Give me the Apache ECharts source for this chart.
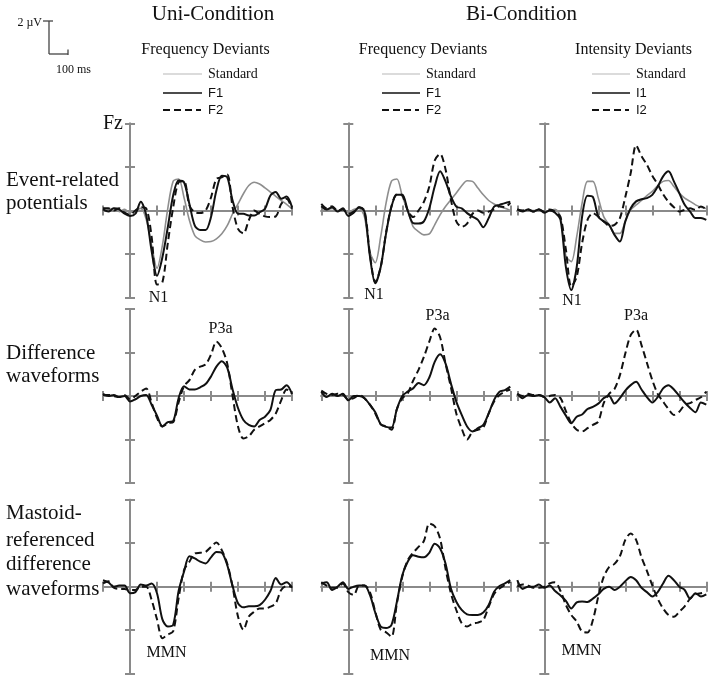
<!DOCTYPE html>
<html><head><meta charset="utf-8">
<script src="https://cdn.jsdelivr.net/npm/echarts@6/dist/echarts.min.js"></script>
<style>html,body{margin:0;padding:0;background:#fff}#c{width:714px;height:680px}</style>
</head><body><div id="c"></div>
<script>
// time points (ms)
const times = [-100,-80,-60,-40,-20,0,20,40,60,80,100,120,140,160,180,200,220,240,260,280,300,320,340,360,380,400,420,440,460,480,500,520,540,560,580,600];

// Row 1: Event-related potentials (µV)
const uniStd = [0.1,0.05,0.1,-0.05,0.05,-0.1,0,0.1,-0.4,-1.6,-2.65,-1.6,0.1,1.35,1.45,0.6,-0.45,-1.15,-1.35,-1.45,-1.43,-1.3,-1.07,-0.7,-0.15,0.3,0.77,1.15,1.3,1.22,1.04,0.85,0.65,0.46,0.28,0.08];
const uniF1 = [0.05,-0.05,0.1,0.05,-0.15,-0.25,-0.15,0.4,-0.2,-1.85,-3.0,-2.15,-0.77,0.7,1.38,1.3,0.3,-0.7,-0.9,-0.9,-0.3,0.92,1.6,1.53,0.46,-0.15,-0.15,-0.23,-0.23,-0.08,0.08,0.69,0.85,0.54,0.64,0.15];
const uniF2 = [0.1,0.1,0,0.1,-0.1,-0.2,0,0.15,0.1,-1.2,-3.4,-3.3,-1.5,0.15,1.3,1.35,0.23,-0.08,-0.12,0,0.6,1.45,1.53,1.65,0.15,-0.85,-1.05,-0.45,0,-0.15,-0.27,-0.3,-0.27,0.3,0.54,0.08];
const biFStd = [0.1,0.05,0.1,0,0.05,-0.1,0.05,0.1,-0.3,-1.9,-2.4,-1.2,0.35,1.35,1.45,0.65,0,-0.74,-0.97,-1.12,-1.08,-0.66,-0.2,0.18,0.5,0.8,1.14,1.37,1.34,1.03,0.72,0.46,0.3,0.18,0.1,0];
const biFF1 = [0.2,0.05,0.15,-0.05,0.1,-0.25,-0.1,0.15,-0.05,-2.1,-3.35,-2.6,-1.05,0.18,0.72,0.72,0,-0.58,-0.6,-0.5,0.1,1.1,1.8,1.34,0.65,0.18,0.1,-0.12,-0.28,-0.43,-0.77,-0.35,0.18,0.26,0.34,0.4];
const biFF2 = [0.3,0.1,0.2,0,0.05,-0.15,-0.05,0.15,0,-2.0,-3.3,-2.6,-1.0,0.2,0.75,0.7,0,-0.3,0,0.4,1.1,2.3,2.6,1.9,0.5,-0.5,-0.75,-0.6,-0.15,0,-0.1,-0.05,0.05,0.2,0.15,0.35];
const biIStd = [0,0,0.05,0,0.05,-0.05,0,0.05,-0.3,-2.1,-2.35,-1.2,0.34,1.34,1.34,0.57,-0.28,-0.66,-1.05,-1.05,-0.5,0.03,0.26,0.46,0.68,0.88,1.14,1.34,1.38,1.1,0.8,0.57,0.42,0.26,0.15,0.09];
const biII1 = [0.05,-0.05,0.05,-0.05,0.05,-0.1,0,-0.1,-0.43,-2.6,-3.66,-2.6,-0.28,0.68,0.62,-0.28,-0.5,-0.66,-1.12,-1.43,-0.5,0.1,0.42,0.52,0.57,0.72,1.1,1.57,1.8,1.34,0.8,0.26,-0.05,-0.35,-0.35,-0.43];
const biII2 = [0.05,0,0.05,-0.05,0.05,-0.05,0.05,-0.05,-0.3,-1.8,-3.5,-3.05,-1.5,-0.43,-0.12,-0.28,-0.5,-0.7,-0.66,-0.35,0.62,1.72,3.0,2.5,2.1,1.6,1.2,0.75,0.4,0.15,-0.05,0.03,0.1,0.03,0.18,0.06];

// Row 2: Difference waveforms
const uniDF1 = [0.1,0,0.05,-0.05,0,-0.25,-0.15,0,0.05,-0.4,-0.9,-1.4,-1.2,-1.15,-0.1,0.45,0.3,0.3,0.4,0.55,0.9,1.35,1.6,1.3,0.3,-0.55,-1.1,-1.33,-1.4,-1.1,-0.95,-0.64,0.27,0.3,0.5,0.1];
const uniDF2 = [0.05,0.05,0,-0.05,0.05,-0.15,0,0.2,0.35,-0.3,-1.0,-1.4,-1.25,-1.2,-0.3,0.45,0.73,1.2,1.35,1.45,1.9,2.5,2.2,1.5,0,-1.4,-1.95,-1.85,-1.55,-1.4,-1.25,-1.1,-0.8,-0.2,0.3,0.1];
const biFDF1 = [0.2,-0.05,0.1,0,0.1,-0.2,0,0,-0.1,-0.4,-0.75,-1.3,-1.42,-1.45,-0.6,0,0.2,0.35,0.6,0.5,0.85,1.57,1.92,1.5,0.58,-0.26,-0.87,-1.4,-1.63,-1.48,-1.33,-0.8,-0.18,0.2,0.27,0.43];
const biFDF2 = [0.25,0.1,0.05,0.1,0.05,-0.15,-0.1,0.05,-0.1,-0.4,-0.8,-1.3,-1.4,-1.55,-0.6,-0.1,0.12,0.7,1.2,1.8,2.5,3.1,2.7,1.5,0.4,-0.8,-1.5,-2.0,-1.65,-1.55,-1.45,-0.8,-0.25,0.05,0.2,0.3];
const biIDF1 = [0.1,-0.1,0.05,0,0.05,-0.05,-0.3,-0.1,-0.5,-0.9,-1.25,-0.95,-0.85,-0.6,-0.5,-0.35,-0.1,0,-0.35,-0.1,0.25,0.5,0.65,0.3,-0.05,-0.3,-0.05,0.35,0.5,0.3,0,-0.3,-0.55,-0.75,-0.3,-0.4];
const biIDF2 = [0.1,0,0.1,0.05,0.05,-0.05,0,0.05,-0.1,-0.7,-1.25,-1.55,-1.63,-1.48,-1.33,-1.17,-0.33,0.1,0.32,0.96,1.95,2.8,3.05,2.34,1.53,0.73,0.1,-0.26,-0.6,-0.87,-0.72,-0.41,-0.33,-0.18,-0.06,0.2];

// Row 3: Mastoid-referenced difference waveforms
const uniMF1 = [0.3,0.2,0,0.05,0.05,-0.3,-0.25,0.1,0.05,0.15,-0.3,-1.5,-1.83,-1.75,-0.2,0.69,1.4,1.3,1.15,1.07,1.35,1.6,1.56,1.0,0.03,-0.76,-0.95,-0.9,-0.9,-0.85,-0.6,-0.2,0.4,0.1,0.2,-0.05];
const uniMF2 = [0.15,0.25,-0.05,-0.1,-0.1,-0.15,-0.15,0,0,-0.6,-1.5,-2.37,-2.2,-2.05,-0.53,0.76,1.15,1.53,1.56,1.6,1.83,2.03,1.68,1.07,0,-1.37,-1.98,-1.37,-1.15,-1.0,-1.0,-0.92,-0.76,-0.15,0.03,0];
const biFMF1 = [0.15,0.2,-0.15,0,0.2,-0.1,0,0.05,0.05,-0.38,-1.2,-1.83,-1.9,-1.75,-0.69,0.53,1.15,1.45,1.38,1.35,1.56,1.98,1.76,1.07,-0.08,-0.69,-1.07,-1.27,-1.3,-1.3,-1.19,-0.84,-0.23,0.03,0.15,0.3];
const biFMF2 = [0.2,0.05,-0.05,-0.05,0.15,-0.25,-0.38,0.05,0.05,-0.25,-1.15,-1.98,-2.1,-2.3,-0.76,0.46,1.22,1.56,1.83,2.1,2.9,2.78,2.2,0.84,-0.3,-1.07,-1.68,-1.83,-1.7,-1.65,-1.53,-0.92,-0.34,-0.08,0.08,0.23];
const biIMF1 = [0.3,-0.1,0,0,0.1,-0.05,0.05,-0.2,-0.4,-0.65,-1.0,-0.72,-0.68,-0.7,-0.55,-0.35,-0.1,0,-0.15,0,0.25,0.45,0.3,-0.05,-0.25,-0.45,-0.25,0.15,0.5,0.3,0,-0.15,-0.55,-0.3,-0.45,-0.35];
const biIMF2 = [0,0.1,0.05,-0.05,-0.05,0,0.15,0.2,-0.2,-0.84,-1.3,-1.6,-2.06,-2.1,-1.53,-0.45,0.45,0.9,1.05,1.4,2.15,2.45,2.15,1.35,0.73,0.06,-0.55,-1.0,-1.3,-1.38,-1.15,-0.9,-0.55,-0.35,-0.3,-0.25];

// axis ticks
const xTicks = {min: -100, max: 600, interval: 100};
const yTicks = {min: -4, max: 4, interval: 2};

// text
const columnTitles = ['Uni-Condition', 'Bi-Condition'];
const panelTitles = ['Frequency Deviants', 'Frequency Deviants', 'Intensity Deviants'];
const legendNames = [['Standard','F1','F2'], ['Standard','F1','F2'], ['Standard','I1','I2']];
const rowLabels = [['Event-related','potentials'], ['Difference','waveforms'], ['Mastoid-','referenced','difference','waveforms']];

const panels = [
  [[uniStd, uniF1, uniF2], [biFStd, biFF1, biFF2], [biIStd, biII1, biII2]],
  [[null, uniDF1, uniDF2], [null, biFDF1, biFDF2], [null, biIDF1, biIDF2]],
  [[null, uniMF1, uniMF2], [null, biFMF1, biFMF2], [null, biIMF1, biIMF2]]
];

const colLeft = [103, 321.3, 517.3];
const rowTop = [123.5, 309, 499.7];
const GW = 189, GH = 174;
const AX = '#8a8a8a';
const SERIF = '"Liberation Serif", "Times New Roman", serif';
const SANS = '"Liberation Sans", Arial, sans-serif';

const grids = [], xAxes = [], yAxes = [], series = [];
const styles = [
  {color: '#8e8e8e', width: 1.6},
  {color: '#111', width: 2},
  {color: '#111', width: 2, type: [7, 4]}
];
for (let r = 0; r < 3; r++) {
  for (let c = 0; c < 3; c++) {
    const k = r * 3 + c;
    grids.push({left: colLeft[c], top: rowTop[r], width: GW, height: GH, containLabel: false});
    [true, false].forEach(inside => {
      xAxes.push(Object.assign({
        type: 'value', gridIndex: k, position: 'bottom',
        axisLine: {show: true, onZero: true, onZeroAxisIndex: 2 * k, lineStyle: {color: AX, width: 2}},
        axisTick: {show: true, inside: inside, length: 5, lineStyle: {color: AX, width: 2}},
        axisLabel: {show: false}, splitLine: {show: false}
      }, xTicks));
      yAxes.push(Object.assign({
        type: 'value', gridIndex: k, position: 'left',
        axisLine: {show: true, onZero: true, onZeroAxisIndex: 2 * k, lineStyle: {color: AX, width: 2}},
        axisTick: {show: true, inside: inside, length: 5, lineStyle: {color: AX, width: 2}},
        axisLabel: {show: false}, splitLine: {show: false}
      }, yTicks));
    });
    panels[r][c].forEach((vals, s) => {
      if (!vals) return;
      series.push({
        type: 'line', xAxisIndex: 2 * k, yAxisIndex: 2 * k,
        data: times.map((t, i) => [t, vals[i]]),
        showSymbol: false, smooth: 0.3, silent: true,
        lineStyle: styles[s], z: 3 + s
      });
    });
  }
}

const graphic = [];
function txt(x, y, s, size, align, family, fill) {
  graphic.push({type: 'text', x: x, y: y, silent: true, style: {
    text: s, font: size + 'px ' + (family || SERIF), fill: fill || '#111',
    textAlign: align || 'center', textVerticalAlign: 'middle', align: align || 'center', verticalAlign: 'middle'
  }});
}
function ln(x1, y1, x2, y2, stroke, w, dash) {
  graphic.push({type: 'line', silent: true, shape: {x1, y1, x2, y2},
    style: {stroke: stroke, lineWidth: w, lineDash: dash || null}});
}
// column headings
txt(213, 14, columnTitles[0], 21);
txt(521.5, 14, columnTitles[1], 21);
const ptX = [205.5, 423, 633.5];
const legLineX = [[163, 202], [382, 420], [592, 630]];
const legY = [74, 93, 110];
for (let c = 0; c < 3; c++) {
  txt(ptX[c], 50, panelTitles[c], 16);
  ln(legLineX[c][0], legY[0], legLineX[c][1], legY[0], '#cfcfcf', 1.5);
  ln(legLineX[c][0], legY[1], legLineX[c][1], legY[1], '#111', 1.3);
  ln(legLineX[c][0], legY[2], legLineX[c][1] - 1, legY[2], '#111', 2, [7, 4]);
  txt(legLineX[c][1] + 6, legY[0], legendNames[c][0], 14, 'left');
  txt(legLineX[c][1] + 6, legY[1], legendNames[c][1], 13, 'left', SANS);
  txt(legLineX[c][1] + 6, legY[2], legendNames[c][2], 13, 'left', SANS);
}
// scale bar
txt(42, 23, '2 µV', 12, 'right');
ln(43, 21, 53, 21, '#444', 1.3);
ln(49, 21, 49, 54, '#444', 1.3);
ln(49, 54, 68, 54, '#444', 1.3);
ln(68, 49.5, 68, 55, '#444', 1.3);
txt(73.5, 70, '100 ms', 12);
// row labels
txt(123, 124, 'Fz', 20, 'right');
const rowLabelY = [[180, 203], [353, 376], [513, 540, 564, 589]];
rowLabels.forEach((lines, r) => lines.forEach((s, i) => txt(6, rowLabelY[r][i], s, 21, 'left')));
// component annotations
[[158.5, 298], [374, 295], [572, 301]].forEach(p => txt(p[0], p[1], 'N1', 16));
[[220.5, 329], [437.5, 316], [636, 316]].forEach(p => txt(p[0], p[1], 'P3a', 16));
[[166.5, 652.5], [390, 656], [581.5, 651]].forEach(p => txt(p[0], p[1], 'MMN', 16));

const chart = echarts.init(document.getElementById('c'), null, {renderer: 'canvas'});
chart.setOption({
  animation: false,
  backgroundColor: '#fff',
  grid: grids, xAxis: xAxes, yAxis: yAxes, series: series, graphic: graphic
});
</script></body></html>
